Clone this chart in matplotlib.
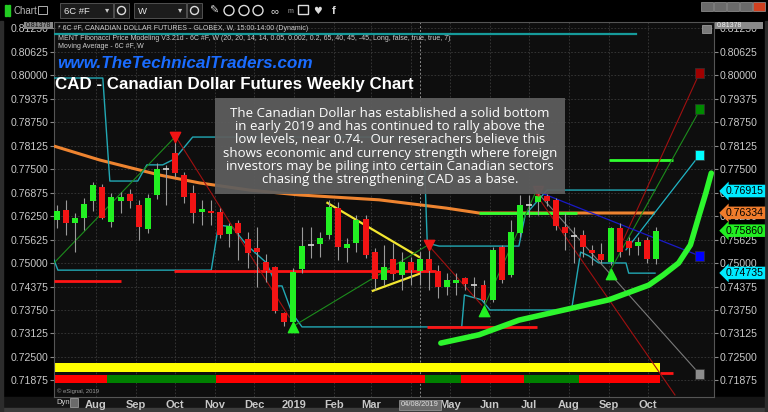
import matplotlib
matplotlib.use("Agg")
import matplotlib.pyplot as plt
from matplotlib.patches import Rectangle, Circle
from matplotlib.transforms import blended_transform_factory
import numpy as np
import pandas as pd

plt.rcParams["font.family"] = ["Liberation Sans", "DejaVu Sans"]

# 6C #F weekly bars, first bar = week of 2018-07-02
first_week = "2018-07-02"
opens = [0.7614, 0.7641, 0.7606, 0.7620, 0.7665, 0.7702, 0.7609, 0.7665, 0.7684, 0.7654,
         0.7591, 0.7681, 0.7750, 0.7793, 0.7734, 0.7686, 0.7636, 0.7638, 0.7636, 0.7577,
         0.7606, 0.7564, 0.7540, 0.7503, 0.7489, 0.7367, 0.7343, 0.7484, 0.7548, 0.7551,
         0.7574, 0.7646, 0.7540, 0.7553, 0.7617, 0.7529, 0.7455, 0.7511, 0.7468, 0.7503,
         0.7479, 0.7511, 0.7479, 0.7436, 0.7447, 0.7460, 0.7441, 0.7441, 0.7402, 0.7543,
         0.7468, 0.7580, 0.7654, 0.7662, 0.7678, 0.7668, 0.7596, 0.7572, 0.7574, 0.7535,
         0.7524, 0.7503, 0.7593, 0.7559, 0.7545, 0.7561, 0.7511]
highs = [0.7654, 0.7668, 0.7633, 0.7673, 0.7715, 0.7710, 0.7686, 0.7689, 0.7697, 0.7668,
         0.7683, 0.7766, 0.7761, 0.7826, 0.7742, 0.7707, 0.7668, 0.7668, 0.7646, 0.7606,
         0.7614, 0.7582, 0.7596, 0.7524, 0.7492, 0.7370, 0.7487, 0.7596, 0.7596, 0.7582,
         0.7668, 0.7662, 0.7567, 0.7628, 0.7628, 0.7540, 0.7548, 0.7553, 0.7529, 0.7516,
         0.7529, 0.7535, 0.7495, 0.7473, 0.7473, 0.7463, 0.7463, 0.7455, 0.7543, 0.7548,
         0.7614, 0.7681, 0.7681, 0.7686, 0.7684, 0.7673, 0.7633, 0.7596, 0.7588, 0.7548,
         0.7553, 0.7596, 0.7606, 0.7569, 0.7569, 0.7569, 0.7596]
lows = [0.7593, 0.7574, 0.7529, 0.7588, 0.7638, 0.7617, 0.7596, 0.7633, 0.7646, 0.7561,
        0.7580, 0.7670, 0.7654, 0.7730, 0.7660, 0.7606, 0.7601, 0.7601, 0.7567, 0.7543,
        0.7508, 0.7487, 0.7436, 0.7449, 0.7367, 0.7332, 0.7338, 0.7473, 0.7513, 0.7516,
        0.7564, 0.7508, 0.7503, 0.7529, 0.7513, 0.7428, 0.7441, 0.7455, 0.7428, 0.7441,
        0.7441, 0.7428, 0.7407, 0.7415, 0.7415, 0.7428, 0.7410, 0.7396, 0.7396, 0.7447,
        0.7463, 0.7569, 0.7622, 0.7628, 0.7652, 0.7588, 0.7535, 0.7500, 0.7516, 0.7495,
        0.7500, 0.7495, 0.7516, 0.7521, 0.7521, 0.7500, 0.7497]
closes = [0.7638, 0.7606, 0.7620, 0.7657, 0.7707, 0.7620, 0.7676, 0.7676, 0.7665, 0.7596,
          0.7673, 0.7750, 0.7750, 0.7739, 0.7676, 0.7633, 0.7644, 0.7633, 0.7574, 0.7598,
          0.7580, 0.7527, 0.7529, 0.7479, 0.7372, 0.7343, 0.7476, 0.7545, 0.7548, 0.7567,
          0.7649, 0.7543, 0.7551, 0.7614, 0.7521, 0.7457, 0.7489, 0.7471, 0.7503, 0.7481,
          0.7511, 0.7479, 0.7436, 0.7455, 0.7455, 0.7444, 0.7441, 0.7402, 0.7535, 0.7455,
          0.7582, 0.7654, 0.7654, 0.7678, 0.7665, 0.7598, 0.7580, 0.7572, 0.7543, 0.7527,
          0.7508, 0.7593, 0.7529, 0.7540, 0.7556, 0.7511, 0.7585]

# trend bar under the price (r = red, g = green), one per week
trend_bar = ("rrrrrr" "gggggggggggg" "rrrrrrrrrrrrrrrrrrrrrrr" "gggg"
             "rrrrrrr" "gggggg" "rrrrrrrrr")

# moving average (knots, x in weeks)
ma_w = [-0.33, 4.7, 11.3, 15.7, 21.2, 26.7, 35.5, 42.9, 46.5, 65.9]
ma_p = [0.7811, 0.7774, 0.7734, 0.7713, 0.7694, 0.7681, 0.7668, 0.7646, 0.7633, 0.7633]

# Fibonacci price modeling bands
fib_hi_w = [-0.33, 5.05, 5.82, 8.9, 9.9, 11.65, 12.97, 14.95, 40.4, 40.8, 42.1, 50.9, 51.6, 54.0, 65.9]
fib_hi_p = [0.7992, 0.7992, 0.7718, 0.7718, 0.7761, 0.7761, 0.7777, 0.7835, 0.7835, 0.7553,
            0.7545, 0.7545, 0.7628, 0.7694, 0.7694]
fib_lo_w = [-0.33, 0.1, 17.0, 17.8, 19.3, 20.9, 23.1, 24.2, 24.8, 25.9, 27.0, 44.6, 44.9,
            46.8, 47.7, 56.7, 57.7, 58.6, 59.7, 62.7, 63.0, 65.9]
fib_lo_p = [0.7508, 0.7481, 0.7481, 0.7601, 0.7596, 0.7548, 0.7500, 0.7439, 0.7439, 0.7367,
            0.7330, 0.7330, 0.7415, 0.7402, 0.7375, 0.7375, 0.7529, 0.7519, 0.7500, 0.7500,
            0.7473, 0.7473]
fib_top_w = [-0.33, 63.8]
fib_top_p = [0.8109, 0.8109]

# red support / resistance levels
lvl_start = [-0.33, 12.9, 40.8, 66.5]
lvl_end = [7.0, 41.8, 52.9, 67.9]
lvl_price = [0.7452, 0.7479, 0.7330, 0.7207]

# bright green target levels
tgt_start = [46.5, 60.8]
tgt_end = [57.3, 67.9]
tgt_price = [0.7633, 0.7774]

# yellow pennant
pen_up_w, pen_up_p = [29.8, 39.9], [0.7660, 0.7516]
pen_lo_w, pen_lo_p = [34.8, 39.9], [0.7426, 0.7471]

# swing legs (thin lines)
up_legs = [([-0.33, 13.0], [0.7500, 0.7835]),
           ([25.9, 40.9], [0.7330, 0.7548]),
           ([46.8, 52.7], [0.7370, 0.7686]),
           ([60.8, 70.9], [0.7473, 0.7910])]
down_legs = [([13.2, 25.6], [0.7832, 0.7356]),
             ([40.9, 46.8], [0.7548, 0.7388]),
             ([52.7, 68.1], [0.7686, 0.7149]),
             ([62.4, 70.8], [0.7561, 0.8005])]
cyan_leg = ([62.7, 70.8], [0.7535, 0.7787])
gray_leg = ([52.7, 70.8], [0.7694, 0.7205])
blue_leg = ([53.4, 70.8], [0.7686, 0.7519])

# projection targets
proj_w = 70.8
proj_p = [0.8005, 0.7910, 0.7787, 0.7519, 0.7205]
proj_c = ["#a00000", "#008a00", "#00ffff", "#0000ff", "#8c8c8c"]

# pivots
piv_hi_w = [13, 41, 53]
piv_hi_p = [0.7835, 0.7548, 0.7691]
piv_lo_w = [26, 47, 61]
piv_lo_p = [0.7330, 0.7372, 0.7471]

# hand drawn arrow
arrow_w = [42.3, 46.5, 50.9, 55.3, 60.8, 65.2, 66.8, 68.5, 69.8, 70.7, 71.5, 72.1]
arrow_p = [0.7287, 0.7309, 0.7348, 0.7372, 0.7402, 0.7441, 0.7468, 0.7500, 0.7548, 0.7622,
           0.7686, 0.7739]

# right axis tags
tag_p = [0.76915, 0.76334, 0.75860, 0.74735]
tag_c = ["#00eaff", "#f07c2c", "#22ee22", "#00eaff"]

note = ("The Canadian Dollar has established a solid bottom\n"
        "in early 2019 and has continued to rally above the\n"
        "low levels, near 0.74.  Our reserachers believe this\n"
        "shows economic and currency strength where foreign\n"
        "investors may be piling into certain Canadian sectors\n"
        "chasing the strengthening CAD as a base.")

W, H = 768, 412
fig = plt.figure(figsize=(W / 100, H / 100), dpi=100)

# background / window chrome
bg = fig.add_axes([0, 0, 1, 1], zorder=0)
bg.axis("off")
bg.add_patch(Rectangle((0, 0), W, H, color="#000000"))
grad = np.linspace(0.33, 0.19, 20)[:, None] * np.ones((1, 2))
bg.imshow(grad, cmap="gray", vmin=0, vmax=1, extent=(0, W, 21, 0), aspect="auto")
bg.add_patch(Rectangle((0, 397), W, 15, color="#151515"))
bg.add_patch(Rectangle((0, 408), W, 4, color="#3c3c3c"))
bg.add_patch(Rectangle((0, 21), 3, 391, color="#2c2c2c"))
bg.add_patch(Rectangle((765, 21), 3, 391, color="#2c2c2c"))
bg.set_xlim(0, W)
bg.set_ylim(H, 0)

# main price pane
ax = fig.add_axes([54 / W, 1 - 397 / H, 660 / W, 375 / H], zorder=1)
ax.set_facecolor("#0e0e0e")
ax.set_xlim(-0.33, 72.4)
ax.set_ylim(0.71436, 0.81410)

d0 = pd.Timestamp(first_week)
months = pd.date_range("2018-08-01", "2019-10-01", freq="MS")
month_pos = (months - d0).days / 7
month_lbl = ["2019" if m.month == 1 else ("" if m.month == 4 else m.strftime("%b")) for m in months]
ax.set_xticks(month_pos)
ax.set_xticklabels(month_lbl)
yt = np.arange(0.71875, 0.8130, 0.00625)
ax.set_yticks(yt)
ax.set_yticklabels([f"{v:.5f}" for v in yt])
ax.tick_params(axis="y", which="both", left=True, right=True, labelleft=True, labelright=True,
               colors="#8a8a8a", labelcolor="#c8c8c8", labelsize=7.6, length=3, pad=1)
ax.tick_params(axis="x", length=0, pad=2, labelcolor="#c8c8c8", labelsize=8)
for lab in ax.get_xticklabels():
    lab.set_fontweight("bold")
for s in ax.spines.values():
    s.set_color("#555555")
    s.set_linewidth(0.8)
ax.grid(True, color="#3a3a3a", lw=0.6, ls=(0, (2, 2)))
ax.axvline(40, color="#8a8a8a", lw=0.7, ls=(0, (2, 2)), zorder=1)

x = np.arange(len(opens))
o, h, l, c = map(np.array, (opens, highs, lows, closes))
up, dn, flat = c > o, c < o, c == o

# bottom trend bars
bar_cols = ["#ff0000" if s == "r" else "#008000" for s in trend_bar]
ax.bar(x, 0.72348 - 0.72109, bottom=0.72109, width=1.0, color="#ffff00", zorder=2)
ax.bar(x, 0.72021 - 0.71800, bottom=0.71800, width=1.0, color=bar_cols, zorder=2)

# indicator lines
ax.plot(ma_w, ma_p, color="#ee8430", lw=2.2, zorder=3, solid_capstyle="butt")
ax.plot(fib_hi_w, fib_hi_p, color="#22a8b4", lw=1.0, zorder=3)
ax.plot(fib_lo_w, fib_lo_p, color="#22a8b4", lw=1.0, zorder=3)
ax.plot(fib_top_w, fib_top_p, color="#169a9a", lw=1.6, zorder=3)
ax.hlines(lvl_price, lvl_start, lvl_end, color="#ff1414", lw=2.0, zorder=3)
ax.hlines(tgt_price, tgt_start, tgt_end, color="#30ff30", lw=2.0, zorder=3)
ax.plot(pen_up_w, pen_up_p, color="#f2e630", lw=1.6, zorder=3)
ax.plot(pen_lo_w, pen_lo_p, color="#f2e630", lw=1.6, zorder=3)
for lw_, lp_ in up_legs:
    ax.plot(lw_, lp_, color="#1c8c1c", lw=0.8, zorder=3)
for lw_, lp_ in down_legs:
    ax.plot(lw_, lp_, color="#a01010", lw=0.8, zorder=3)
ax.plot(*cyan_leg, color="#20b4c4", lw=0.9, zorder=3)
ax.plot(*gray_leg, color="#7a7a7a", lw=0.8, zorder=3)
ax.plot(*blue_leg, color="#1a1ac8", lw=0.9, zorder=3)
ax.scatter([proj_w] * len(proj_p), proj_p, marker="s", s=48, c=proj_c,
           edgecolors="#333333", linewidths=0.5, zorder=6)

# candles
ax.vlines(x, l, h, color="#9a9a9a", lw=0.8, zorder=4)
ax.bar(x[up], (c - o)[up], bottom=o[up], width=0.66, color="#22f022", zorder=5)
ax.bar(x[dn], (o - c)[dn], bottom=c[dn], width=0.66, color="#f21414", zorder=5)
ax.hlines(o[flat], x[flat] - 0.33, x[flat] + 0.33, color="#d8d8d8", lw=1.2, zorder=5)

ax.scatter(piv_hi_w[:2], piv_hi_p[:2], marker="v", s=55, color="#f21414", zorder=6)
ax.scatter(piv_hi_w[2:], piv_hi_p[2:], marker="v", s=55, color="#f21414", alpha=0.5, zorder=6)
ax.scatter(piv_lo_w, piv_lo_p, marker="^", s=55, color="#22f022", zorder=6)

ax.plot(arrow_w, arrow_p, color="#2df52d", lw=4.0, solid_capstyle="round",
        solid_joinstyle="round", zorder=7, clip_on=False)

# right axis value tags
tr = blended_transform_factory(ax.transAxes, ax.transData)
for p, col in zip(tag_p, tag_c):
    ax.text(1.018, p, f"{p:.5f}", transform=tr, ha="left", va="center", fontsize=7.6,
            color="#000000", clip_on=False, zorder=10,
            bbox=dict(boxstyle="larrow,pad=0.12", fc=col, ec="none"))
trx = blended_transform_factory(ax.transData, ax.transAxes)
ax.text(40, -0.012, "04/08/2019", transform=trx, ha="center", va="top", fontsize=5.5,
        color="#e0e0e0", clip_on=False, zorder=10,
        bbox=dict(boxstyle="square,pad=0.25", fc="#6a6a6a", ec="#9a9a9a", lw=0.5))

# overlay in pixel space
ov = fig.add_axes([0, 0, 1, 1], zorder=3)
ov.set_xlim(0, W)
ov.set_ylim(H, 0)
ov.axis("off")

# toolbar
ov.add_patch(Rectangle((5, 5), 2, 11, color="#22cc22"))
ov.add_patch(Rectangle((8, 5), 2, 11, color="#22cc22"))
ov.text(14, 11, "Chart", fontsize=7, color="#b8b8b8", va="center")
ov.add_patch(Rectangle((38, 6), 9, 8, fc="none", ec="#b0b0b0", lw=0.7))
for x0, x1, lbl in [(60, 113, "6C #F"), (134, 186, "W")]:
    ov.add_patch(Rectangle((x0, 3), x1 - x0, 15, fc="#1c1c1c", ec="#5a5a5a", lw=0.6))
    ov.text(x0 + 4, 11, lbl, fontsize=6.8, color="#e8e8e8", va="center")
    ov.text(x1 - 6, 11, "▾", fontsize=6, color="#cccccc", va="center", ha="center")
for x0 in (114, 187):
    ov.add_patch(Rectangle((x0, 3), 15, 15, fc="#1c1c1c", ec="#5a5a5a", lw=0.6))
    ov.add_patch(Circle((x0 + 7.5, 10.5), 4, fc="none", ec="#dddddd", lw=1.0))
for xc in (229, 244, 258):
    ov.add_patch(Circle((xc, 10.5), 5, fc="none", ec="#dddddd", lw=1.0))
ov.text(214, 11, "✎", fontsize=8, color="#dddddd", va="center", ha="center",
        family=["DejaVu Sans"])
ov.text(274, 11, "∞", fontsize=8, color="#dddddd", va="center", ha="center")
ov.text(290, 11, "m", fontsize=5, color="#aaaaaa", va="center", ha="center")
ov.add_patch(Rectangle((298, 5), 10, 9, fc="none", ec="#dddddd", lw=1.0))
ov.text(318, 11, "♥", fontsize=7, color="#dddddd", va="center", ha="center",
        family=["DejaVu Sans"])
ov.text(334, 11, "f", fontsize=8, color="#dddddd", va="center", ha="center", weight="bold")
for xb, fc in [(701, "#6a6a6a"), (714, "#6a6a6a"), (727, "#6a6a6a"), (740, "#6a6a6a"),
               (753, "#d04020")]:
    ov.add_patch(Rectangle((xb, 2), 12, 9, fc=fc, ec="#999999", lw=0.5))

# header lines
ov.text(58, 28, "* 6C #F, CANADIAN DOLLAR FUTURES - GLOBEX, W, 15:00-14:00 (Dynamic)",
        fontsize=5, color="#cfcfcf", va="center")
ov.text(58, 38, "MENT Fibonacci Price Modeling V3.21d - 6C #F, W (20, 20, 14, 14, 0.05, 0.002, "
        "0.2, 65, 40, 45, -45, Long, false, true, true, 7)", fontsize=5, color="#cfcfcf",
        va="center")
ov.text(58, 46, "Moving Average - 6C #F, W", fontsize=5, color="#cfcfcf", va="center")
for xb, w_ in [(24, 29), (715, 48)]:
    ov.add_patch(Rectangle((xb, 22), w_, 7, fc="#8a8a8a", ec="none"))
ov.text(51, 25.5, "0.81378", fontsize=5, color="#111111", va="center", ha="right")
ov.text(717, 25.5, "0.81378", fontsize=5, color="#f0f0f0", va="center", ha="left")
ov.add_patch(Rectangle((702, 25), 9, 8, fc="#7a7a7a", ec="#aaaaaa", lw=0.5))

# titles
ov.text(57, 63, "www.TheTechnicalTraders.com", fontsize=12.3, color="#1a6cff",
        weight="bold", style="italic", va="center")
ov.text(55, 84, "CAD - Canadian Dollar Futures Weekly Chart", fontsize=12.2,
        color="#ffffff", weight="bold", va="center")

# note box
ov.add_patch(Rectangle((215, 98), 350, 96, fc="#5e5e5e", ec="none", alpha=0.93))
ov.text(390, 146.5, note, fontsize=9.5, color="#ffffff", ha="center", va="center",
        linespacing=1.02, family=["Open Sans", "DejaVu Sans"])

# bottom bits
ov.text(57, 391, "© eSignal, 2019", fontsize=4.2, color="#9a9a9a", va="center")
ov.text(56, 403, "Dyn", fontsize=5.5, color="#cfcfcf", va="center")
ov.add_patch(Rectangle((70, 398), 8, 9, fc="#6a6a6a", ec="#aaaaaa", lw=0.5))

fig.savefig("out.png", dpi=100, facecolor="#000000")
